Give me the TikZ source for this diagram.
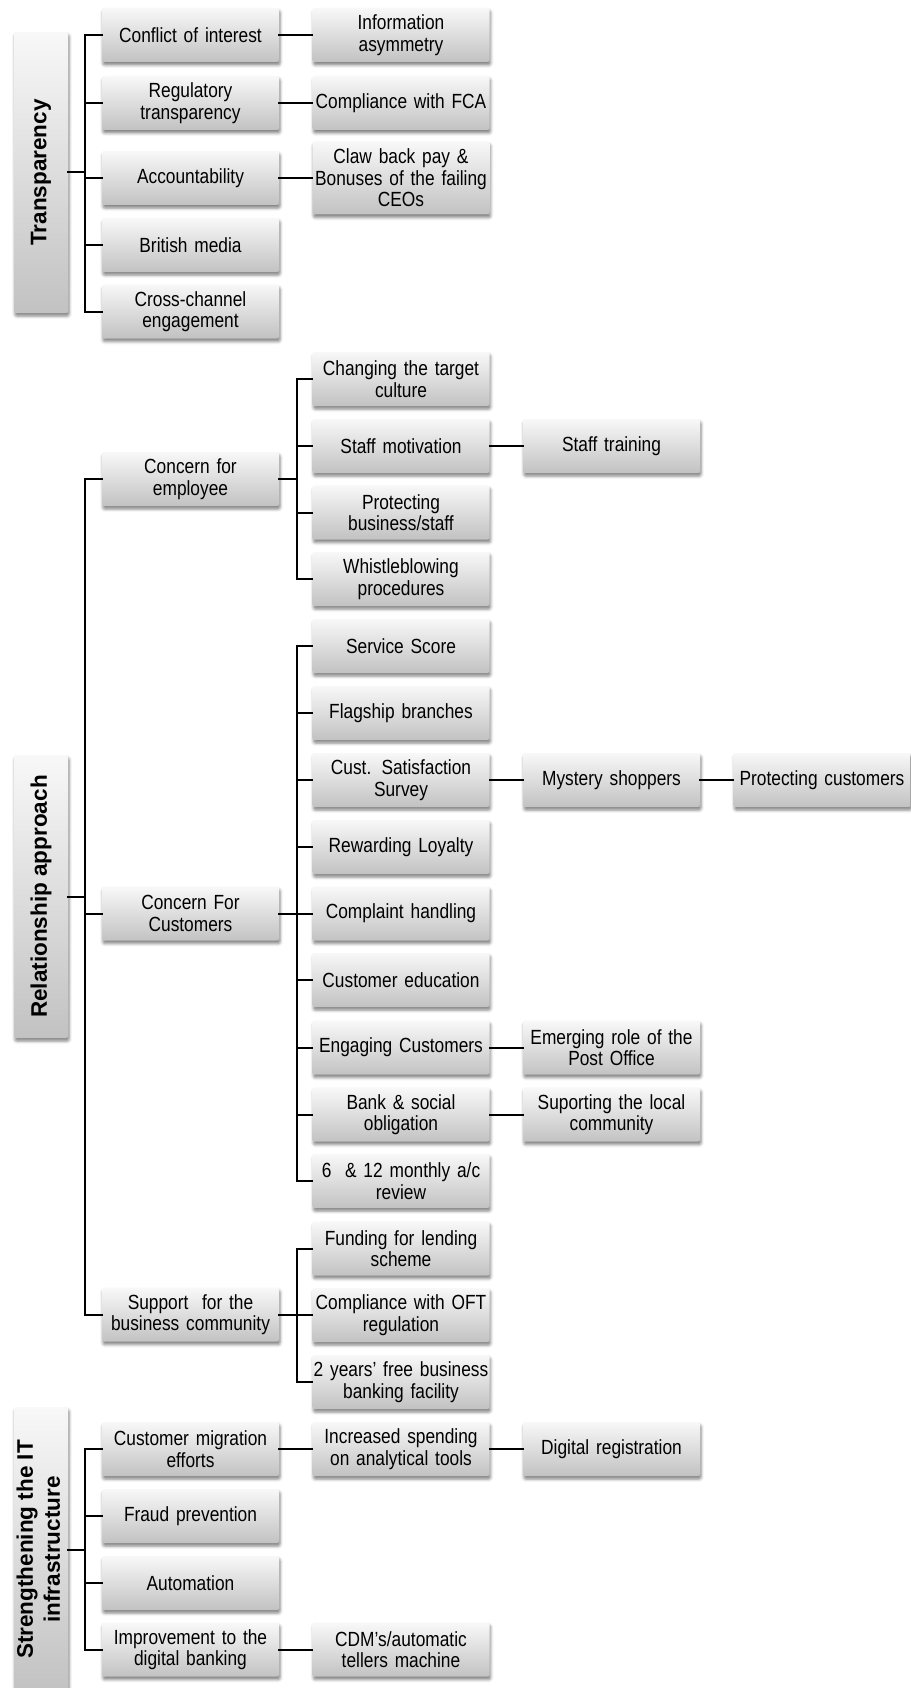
\documentclass[tikz,border=0pt]{standalone}
\usepackage{fontspec}
\usepackage{graphicx}
\setmainfont[FakeStretch=0.845]{Liberation Sans}
\newfontfamily\headfont{Liberation Sans}
\usetikzlibrary{shadows.blur}

\definecolor{boxtop}{RGB}{248,248,248}
\definecolor{boxbot}{RGB}{194,194,194}

\tikzset{
  shade box/.style={rectangle, rounded corners=2pt, inner sep=0pt,
    top color=boxtop, bottom color=boxbot,
    blur shadow={shadow xshift=1pt, shadow yshift=-3pt,
                 shadow blur radius=3pt, shadow opacity=50}},
  box/.style={shade box, minimum width=177pt, minimum height=54pt,
    text width=177pt, align=center,
    font=\fontsize{20.5}{21.5}\selectfont},
  headbox/.style={shade box, minimum width=54pt,
    font=\headfont\bfseries\fontsize{22.5}{27}\selectfont},
  conn/.style={draw=black, line width=2pt, line cap=rect}
}

\begin{document}
\begin{tikzpicture}[x=1pt,y=-1pt]
\useasboundingbox (0,0) rectangle (910,1688);

% bus positions
\coordinate (b0) at (85,0);
\coordinate (b1) at (297,0);

% ---------------- Transparency ----------------
\node[headbox, minimum height=281pt] (T0) at (41,172.5) {\rotatebox{90}{Transparency}};
\node[box] (a1) at (190.5,35) {Conflict of interest};
\node[box] (a2) at (190.5,103) {Regulatory\\transparency};
\node[box] (a3) at (190.5,178) {Accountability};
\node[box] (a4) at (190.5,245) {British media};
\node[box] (a5) at (190.5,311.5) {Cross-channel\\engagement};
\node[box] (t1) at (401,35) {Information\\asymmetry};
\node[box] (t2) at (401,103) {Compliance with FCA};
\node[box, minimum height=73pt] (t3) at (401,178) {Claw back pay \&\\Bonuses of the failing\\CEOs};

% ---------------- Relationship approach ----------------
\node[headbox, minimum height=283pt] (R0) at (41,896.5) {\rotatebox{90}{Relationship approach}};
\node[box] (emp) at (190.5,479) {Concern for\\employee};
\node[box] (cus) at (190.5,913.5) {Concern For\\Customers};
\node[box] (bsc) at (190.5,1314.5) {Support\ \ for the\\business community};

\node[box] (e1) at (401,379) {Changing the target\\culture};
\node[box] (e2) at (401,446) {Staff motivation};
\node[box] (e3) at (401,512.5) {Protecting\\business/staff};
\node[box] (e4) at (401,579) {Whistleblowing\\procedures};
\node[box] (st) at (611.5,446) {Staff training};

\node[box] (c1) at (401,646) {Service Score};
\node[box] (c2) at (401,713) {Flagship branches};
\node[box] (c3) at (401,780) {Cust. Satisfaction\\Survey};
\node[box] (c4) at (401,847) {Rewarding Loyalty};
\node[box] (c5) at (401,913.5) {Complaint handling};
\node[box] (c6) at (401,980) {Customer education};
\node[box] (c7) at (401,1047.5) {Engaging Customers};
\node[box] (c8) at (401,1114.5) {Bank \& social\\obligation};
\node[box] (c9) at (401,1181) {6\ \ \& 12 monthly a/c\\review};
\node[box] (ms) at (611.5,780) {Mystery shoppers};
\node[box] (pc) at (822,780) {Protecting customers};
\node[box] (po) at (611.5,1047.5) {Emerging role of the\\Post Office};
\node[box] (lc) at (611.5,1114.5) {Suporting the local\\community};

\node[box] (s1) at (401,1248.5) {Funding for lending\\scheme};
\node[box] (s2) at (401,1315) {Compliance with OFT\\regulation};
\node[box] (s3) at (401,1382) {2 years' free business\\banking facility};

% ---------------- Strengthening the IT infrastructure ----------------
\node[headbox, minimum height=285pt] (S0) at (41,1549.5)
  {\rotatebox{90}{\begin{tabular}{@{}c@{}}Strengthening the IT\\infrastructure\end{tabular}}};
\node[box] (i1) at (190.5,1449) {Customer migration\\efforts};
\node[box] (i2) at (190.5,1516) {Fraud prevention};
\node[box] (i3) at (190.5,1583) {Automation};
\node[box] (i4) at (190.5,1649.5) {Improvement to the\\digital banking};
\node[box] (j1) at (401,1449) {Increased spending\\on analytical tools};
\node[box] (j4) at (401,1649.5) {CDM’s/automatic\\tellers machine};
\node[box] (k1) at (611.5,1449) {Digital registration};

% ---------------- connectors ----------------
% Transparency
\draw[conn] (T0.east) -- (T0.east -| b0);
\draw[conn] (a1.west -| b0) -- (a5.west -| b0);
\foreach \n in {a1,a2,a3,a4,a5} \draw[conn] (\n.west) -- (\n.west -| b0);
\draw[conn] (a1.east) -- (t1.west);
\draw[conn] (a2.east) -- (t2.west);
\draw[conn] (a3.east) -- (t3.west);

% Relationship approach
\draw[conn] (R0.east) -- (R0.east -| b0);
\draw[conn] (emp.west -| b0) -- (bsc.west -| b0);
\foreach \n in {emp,cus,bsc} \draw[conn] (\n.west) -- (\n.west -| b0);

\draw[conn] (emp.east) -- (emp.east -| b1);
\draw[conn] (e1.west -| b1) -- (e4.west -| b1);
\foreach \n in {e1,e2,e3,e4} \draw[conn] (\n.west) -- (\n.west -| b1);
\draw[conn] (e2.east) -- (st.west);

\draw[conn] (cus.east) -- (cus.east -| b1);
\draw[conn] (c1.west -| b1) -- (c9.west -| b1);
\foreach \n in {c1,c2,c3,c4,c5,c6,c7,c8,c9} \draw[conn] (\n.west) -- (\n.west -| b1);
\draw[conn] (c3.east) -- (ms.west);
\draw[conn] (ms.east) -- (pc.west);
\draw[conn] (c7.east) -- (po.west);
\draw[conn] (c8.east) -- (lc.west);

\draw[conn] (bsc.east) -- (bsc.east -| b1);
\draw[conn] (s1.west -| b1) -- (s3.west -| b1);
\foreach \n in {s1,s2,s3} \draw[conn] (\n.west) -- (\n.west -| b1);

% Strengthening the IT infrastructure
\draw[conn] (S0.east) -- (S0.east -| b0);
\draw[conn] (i1.west -| b0) -- (i4.west -| b0);
\foreach \n in {i1,i2,i3,i4} \draw[conn] (\n.west) -- (\n.west -| b0);
\draw[conn] (i1.east) -- (j1.west);
\draw[conn] (j1.east) -- (k1.west);
\draw[conn] (i4.east) -- (j4.west);

\end{tikzpicture}
\end{document}
